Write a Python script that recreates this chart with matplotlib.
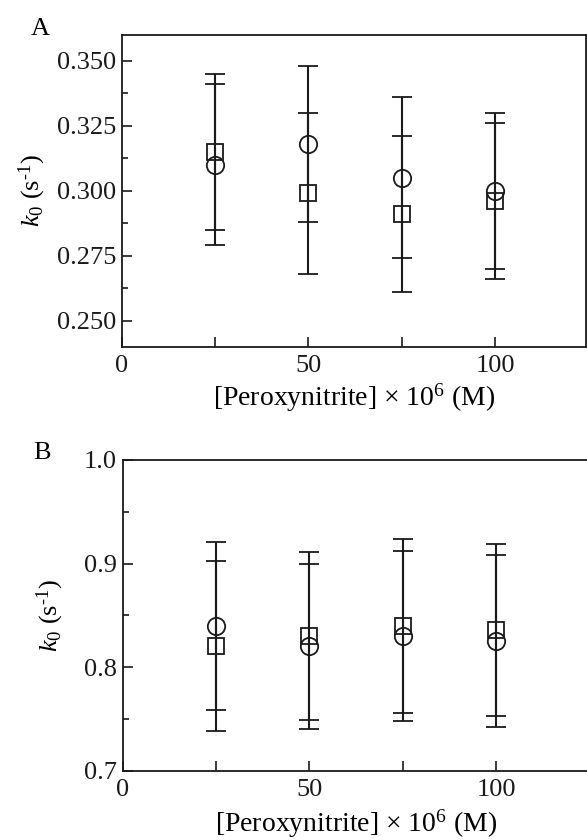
import matplotlib
matplotlib.use("Agg")
import matplotlib.pyplot as plt
from matplotlib.ticker import MultipleLocator, FixedLocator

plt.rcParams["font.family"] = ["Liberation Serif", "DejaVu Serif"]
plt.rcParams["mathtext.fontset"] = "custom"
plt.rcParams["mathtext.rm"] = "Liberation Serif"
plt.rcParams["mathtext.it"] = "Liberation Serif:italic"

# peroxynitrite concentrations (x 10^6 M)
conc = [25, 50, 75, 100]

# panel A: k0 values with standard deviations
a_circle = [0.310, 0.318, 0.305, 0.300]
a_circle_err = [0.031, 0.030, 0.031, 0.030]
a_square = [0.315, 0.299, 0.291, 0.296]
a_square_err = [0.030, 0.031, 0.030, 0.030]

# panel B
b_circle = [0.840, 0.820, 0.830, 0.825]
b_circle_err = [0.081, 0.080, 0.082, 0.083]
b_square = [0.820, 0.830, 0.840, 0.836]
b_square_err = [0.082, 0.081, 0.084, 0.083]

x_label = r"[Peroxynitrite] × 10$^{6}$ (M)"
y_label = r"$k_0$ (s$^{\text{-1}}$)"

W, H = 587, 840
FS = 19

fig = plt.figure(figsize=(W / 100, H / 100), dpi=100)


def px_axes(left, top, right, bottom):
    return fig.add_axes([left / W, 1 - bottom / H, (right - left) / W, (bottom - top) / H])


def draw_panel(ax, circ, circ_err, sq, sq_err, xpad, ypad):
    style = dict(color="#1a1a1a", elinewidth=1.5, capsize=7, capthick=1.5,
                 linestyle="none", markerfacecolor="none", markeredgecolor="#1a1a1a",
                 markeredgewidth=1.3)
    ax.errorbar(conc, sq, yerr=sq_err, marker="s", markersize=11, **style)
    ax.errorbar(conc, circ, yerr=circ_err, marker="o", markersize=12.5, **style)
    ax.xaxis.set_major_locator(FixedLocator([0, 50, 100]))
    ax.xaxis.set_minor_locator(FixedLocator([25, 75]))
    ax.tick_params(which="both", direction="in", top=False, right=False,
                   labelsize=FS, width=1.2, colors="#1a1a1a")
    ax.tick_params(which="major", length=7, pad=4)
    ax.tick_params(axis="x", which="both", length=7, pad=6)
    ax.tick_params(axis="y", which="minor", length=4.5)
    for sp in ax.spines.values():
        sp.set_linewidth(1.3)
        sp.set_color("#1a1a1a")
    ax.set_xlabel(x_label, fontsize=20, labelpad=xpad)
    ax.set_ylabel(y_label, fontsize=FS, labelpad=ypad)


# panel A
ax1 = px_axes(121.7, 35, 585.7, 346.7)
draw_panel(ax1, a_circle, a_circle_err, a_square, a_square_err, xpad=3, ypad=6)
ax1.set_xlim(0, 124.3)
ax1.set_ylim(0.24, 0.36)
ax1.yaxis.set_major_locator(MultipleLocator(0.025))
ax1.yaxis.set_minor_locator(MultipleLocator(0.0125))
ax1.yaxis.set_major_formatter(lambda v, p: f"{v:.3f}")
fig.text(31 / W, 1 - 35 / H, "A", fontsize=FS, ha="left", va="baseline")

# panel B
ax2 = px_axes(122.7, 460, 589.4, 770.7)
draw_panel(ax2, b_circle, b_circle_err, b_square, b_square_err, xpad=4.5, ypad=13)
ax2.set_xlim(0, 125)
ax2.set_ylim(0.7, 1.0)
ax2.yaxis.set_major_locator(MultipleLocator(0.1))
ax2.yaxis.set_minor_locator(MultipleLocator(0.05))
ax2.yaxis.set_major_formatter(lambda v, p: f"{v:.1f}")
fig.text(33 / W, 1 - 459 / H, "B", fontsize=FS, ha="left", va="baseline")

fig.savefig("out.png", dpi=100)
